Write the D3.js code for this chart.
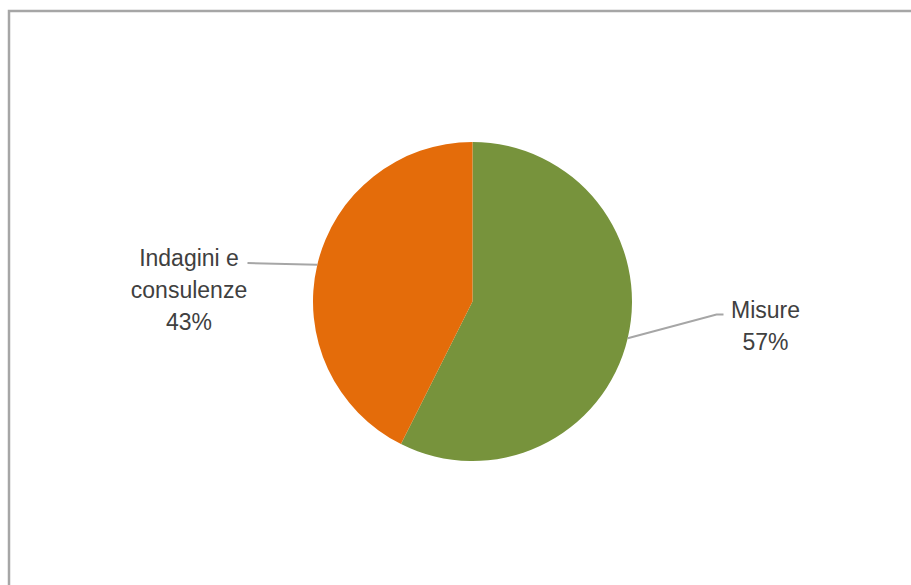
<!DOCTYPE html>
<html><head><meta charset="utf-8">
<script src="https://cdn.jsdelivr.net/npm/d3@7"></script>
<style>html,body{margin:0;padding:0;background:#fff;}svg{display:block;}</style>
</head><body>
<svg id="chart" width="911" height="585"></svg>
<script>
const categories = ["Misure", "Indagini e consulenze"];
const values = [57.4, 42.6];
const percentLabels = ["57%", "43%"];
const labelLines = [["Misure", "57%"], ["Indagini e", "consulenze", "43%"]];
const colors = ["#77933C", "#E46C0A"];

const svg = d3.select("#chart");
svg.append("rect").attr("x", 9).attr("y", 11).attr("width", 1000).attr("height", 1000)
  .attr("fill", "#fff").attr("stroke", "#A6A6A6").attr("stroke-width", 2.5);

const cx = 472.5, cy = 301.5, r = 159.5;
const g = svg.append("g").attr("transform", `translate(${cx},${cy})`);
const pie = d3.pie().sort(null).value(d => d);
const arcs = pie(values);
const arc = d3.arc().innerRadius(0).outerRadius(r);
g.selectAll("path").data(arcs).enter().append("path")
  .attr("d", arc).attr("fill", (d, i) => colors[i]);

// label layout (positions relative to center)
const labelLayout = [
  {elbow: [244, 13], end: [251, 13], tx: 293, ty: 16.5},
  {elbow: [-225, -38.5], end: [-225, -38.5], tx: -283.5, ty: -35.5}
];
const lineH = 32;
arcs.forEach((d, i) => {
  const mid = (d.startAngle + d.endAngle) / 2;
  const sx = r * Math.sin(mid), sy = -r * Math.cos(mid);
  const L = labelLayout[i];
  g.append("polyline")
    .attr("points", [[sx, sy], L.elbow, L.end].map(p => p.join(",")).join(" "))
    .attr("fill", "none").attr("stroke", "#A6A6A6").attr("stroke-width", 2);
  const t = g.append("text").attr("text-anchor", "middle")
    .attr("font-family", "'Liberation Sans', Arial, sans-serif")
    .attr("font-size", 23).attr("fill", "#404040");
  labelLines[i].forEach((ln, j) => {
    t.append("tspan").attr("x", L.tx).attr("y", L.ty + j * lineH).text(ln);
  });
});
</script>
</body></html>
